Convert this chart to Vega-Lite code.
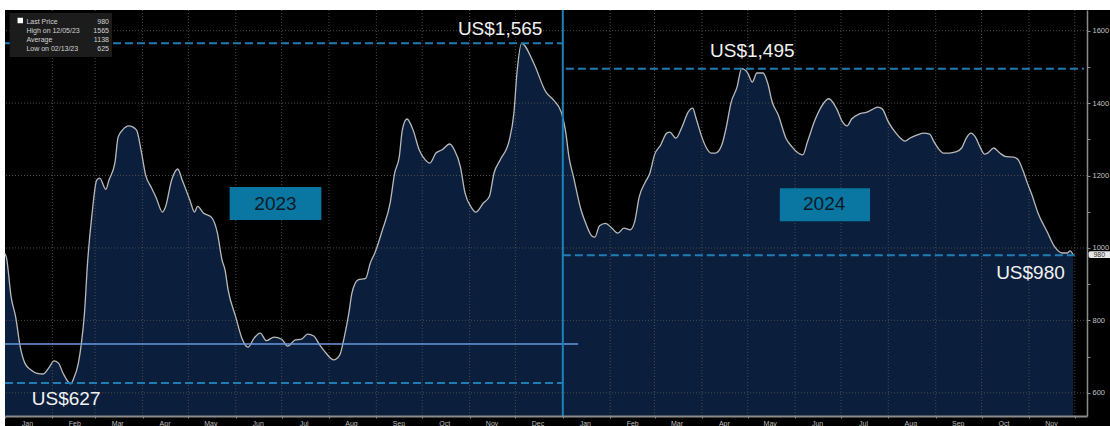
{
  "$schema": "https://vega.github.io/schema/vega-lite/v6.json",
  "width": 1082,
  "height": 406,
  "autosize": {"type": "none"},
  "padding": {"left": 5, "top": 10, "right": 23, "bottom": 10},
  "background": "#ffffff",
  "config": {"view": {"stroke": null}, "font": "Liberation Sans"},
  "data": {"values": [{}]},
  "datasets": {
    "price": [
      {"date": "2023-01-01", "price": 985}, {"date": "2023-01-02", "price": 972}, {"date": "2023-01-05", "price": 865},
      {"date": "2023-01-08", "price": 809}, {"date": "2023-01-11", "price": 726}, {"date": "2023-01-14", "price": 682},
      {"date": "2023-01-18", "price": 663}, {"date": "2023-01-22", "price": 654}, {"date": "2023-01-26", "price": 652},
      {"date": "2023-01-30", "price": 671}, {"date": "2023-02-02", "price": 688}, {"date": "2023-02-05", "price": 682},
      {"date": "2023-02-08", "price": 654}, {"date": "2023-02-13", "price": 625}, {"date": "2023-02-15", "price": 640},
      {"date": "2023-02-18", "price": 682}, {"date": "2023-02-20", "price": 737}, {"date": "2023-02-22", "price": 820},
      {"date": "2023-02-24", "price": 958}, {"date": "2023-02-27", "price": 1096}, {"date": "2023-03-02", "price": 1187},
      {"date": "2023-03-04", "price": 1193}, {"date": "2023-03-08", "price": 1162}, {"date": "2023-03-10", "price": 1187},
      {"date": "2023-03-14", "price": 1237}, {"date": "2023-03-16", "price": 1306}, {"date": "2023-03-19", "price": 1326},
      {"date": "2023-03-23", "price": 1337}, {"date": "2023-03-28", "price": 1326}, {"date": "2023-03-31", "price": 1271},
      {"date": "2023-04-03", "price": 1202}, {"date": "2023-04-07", "price": 1165}, {"date": "2023-04-10", "price": 1138},
      {"date": "2023-04-14", "price": 1099}, {"date": "2023-04-16", "price": 1113}, {"date": "2023-04-20", "price": 1187},
      {"date": "2023-04-24", "price": 1218}, {"date": "2023-04-27", "price": 1187}, {"date": "2023-05-02", "price": 1132},
      {"date": "2023-05-05", "price": 1099}, {"date": "2023-05-07", "price": 1115}, {"date": "2023-05-11", "price": 1096},
      {"date": "2023-05-16", "price": 1085}, {"date": "2023-05-20", "price": 1041}, {"date": "2023-05-23", "price": 967},
      {"date": "2023-05-25", "price": 939}, {"date": "2023-05-27", "price": 884}, {"date": "2023-06-01", "price": 809},
      {"date": "2023-06-05", "price": 751}, {"date": "2023-06-09", "price": 726}, {"date": "2023-06-13", "price": 751},
      {"date": "2023-06-17", "price": 765}, {"date": "2023-06-21", "price": 744}, {"date": "2023-06-26", "price": 754},
      {"date": "2023-07-01", "price": 748}, {"date": "2023-07-05", "price": 729}, {"date": "2023-07-10", "price": 746},
      {"date": "2023-07-14", "price": 748}, {"date": "2023-07-18", "price": 762}, {"date": "2023-07-22", "price": 757},
      {"date": "2023-07-26", "price": 732}, {"date": "2023-07-30", "price": 710}, {"date": "2023-08-04", "price": 691},
      {"date": "2023-08-08", "price": 704}, {"date": "2023-08-11", "price": 754}, {"date": "2023-08-14", "price": 820},
      {"date": "2023-08-16", "price": 875}, {"date": "2023-08-20", "price": 912}, {"date": "2023-08-25", "price": 916},
      {"date": "2023-08-28", "price": 958}, {"date": "2023-08-31", "price": 986}, {"date": "2023-09-05", "price": 1050},
      {"date": "2023-09-10", "price": 1124}, {"date": "2023-09-13", "price": 1207}, {"date": "2023-09-16", "price": 1252},
      {"date": "2023-09-18", "price": 1326}, {"date": "2023-09-21", "price": 1356}, {"date": "2023-09-25", "price": 1326},
      {"date": "2023-09-29", "price": 1271}, {"date": "2023-10-03", "price": 1243}, {"date": "2023-10-06", "price": 1234},
      {"date": "2023-10-10", "price": 1262}, {"date": "2023-10-14", "price": 1271}, {"date": "2023-10-19", "price": 1287},
      {"date": "2023-10-22", "price": 1271}, {"date": "2023-10-26", "price": 1224}, {"date": "2023-10-29", "price": 1152},
      {"date": "2023-11-02", "price": 1113}, {"date": "2023-11-05", "price": 1099}, {"date": "2023-11-10", "price": 1124},
      {"date": "2023-11-14", "price": 1143}, {"date": "2023-11-17", "price": 1207}, {"date": "2023-11-21", "price": 1243},
      {"date": "2023-11-27", "price": 1298}, {"date": "2023-11-30", "price": 1373}, {"date": "2023-12-02", "price": 1483},
      {"date": "2023-12-05", "price": 1565}, {"date": "2023-12-13", "price": 1510}, {"date": "2023-12-21", "price": 1430},
      {"date": "2023-12-26", "price": 1408}, {"date": "2023-12-31", "price": 1375}, {"date": "2024-01-03", "price": 1317},
      {"date": "2024-01-05", "price": 1252}, {"date": "2024-01-08", "price": 1196}, {"date": "2024-01-13", "price": 1104},
      {"date": "2024-01-16", "price": 1068}, {"date": "2024-01-20", "price": 1033}, {"date": "2024-01-22", "price": 1030},
      {"date": "2024-01-25", "price": 1061}, {"date": "2024-01-29", "price": 1068}, {"date": "2024-02-02", "price": 1055},
      {"date": "2024-02-06", "price": 1041}, {"date": "2024-02-10", "price": 1055}, {"date": "2024-02-14", "price": 1050},
      {"date": "2024-02-17", "price": 1072}, {"date": "2024-02-20", "price": 1141}, {"date": "2024-02-24", "price": 1182},
      {"date": "2024-02-27", "price": 1207}, {"date": "2024-03-01", "price": 1257}, {"date": "2024-03-05", "price": 1284},
      {"date": "2024-03-09", "price": 1317}, {"date": "2024-03-11", "price": 1320}, {"date": "2024-03-15", "price": 1303},
      {"date": "2024-03-19", "price": 1334}, {"date": "2024-03-23", "price": 1375}, {"date": "2024-03-26", "price": 1386},
      {"date": "2024-03-28", "price": 1361}, {"date": "2024-04-01", "price": 1306}, {"date": "2024-04-04", "price": 1276},
      {"date": "2024-04-07", "price": 1262}, {"date": "2024-04-10", "price": 1262}, {"date": "2024-04-14", "price": 1284},
      {"date": "2024-04-17", "price": 1334}, {"date": "2024-04-20", "price": 1400}, {"date": "2024-04-24", "price": 1444},
      {"date": "2024-04-27", "price": 1495}, {"date": "2024-05-01", "price": 1483}, {"date": "2024-05-04", "price": 1458},
      {"date": "2024-05-07", "price": 1483}, {"date": "2024-05-11", "price": 1483}, {"date": "2024-05-14", "price": 1456},
      {"date": "2024-05-17", "price": 1403}, {"date": "2024-05-21", "price": 1367}, {"date": "2024-05-26", "price": 1303},
      {"date": "2024-05-30", "price": 1279}, {"date": "2024-06-03", "price": 1262}, {"date": "2024-06-06", "price": 1257},
      {"date": "2024-06-09", "price": 1292}, {"date": "2024-06-14", "price": 1353}, {"date": "2024-06-18", "price": 1389},
      {"date": "2024-06-23", "price": 1412}, {"date": "2024-06-28", "price": 1386}, {"date": "2024-07-02", "price": 1348},
      {"date": "2024-07-05", "price": 1337}, {"date": "2024-07-08", "price": 1356}, {"date": "2024-07-13", "price": 1370},
      {"date": "2024-07-18", "price": 1375}, {"date": "2024-07-21", "price": 1381}, {"date": "2024-07-25", "price": 1389},
      {"date": "2024-07-28", "price": 1384}, {"date": "2024-08-01", "price": 1348}, {"date": "2024-08-06", "price": 1317},
      {"date": "2024-08-09", "price": 1303}, {"date": "2024-08-12", "price": 1295}, {"date": "2024-08-15", "price": 1303},
      {"date": "2024-08-20", "price": 1312}, {"date": "2024-08-24", "price": 1317}, {"date": "2024-08-28", "price": 1314},
      {"date": "2024-08-31", "price": 1292}, {"date": "2024-09-03", "price": 1273}, {"date": "2024-09-06", "price": 1262},
      {"date": "2024-09-10", "price": 1262}, {"date": "2024-09-14", "price": 1265}, {"date": "2024-09-18", "price": 1276},
      {"date": "2024-09-21", "price": 1303}, {"date": "2024-09-24", "price": 1317}, {"date": "2024-09-27", "price": 1306},
      {"date": "2024-09-30", "price": 1279}, {"date": "2024-10-03", "price": 1259}, {"date": "2024-10-05", "price": 1262},
      {"date": "2024-10-09", "price": 1276}, {"date": "2024-10-13", "price": 1262}, {"date": "2024-10-17", "price": 1252},
      {"date": "2024-10-22", "price": 1251}, {"date": "2024-10-25", "price": 1243}, {"date": "2024-10-28", "price": 1215},
      {"date": "2024-10-31", "price": 1179}, {"date": "2024-11-03", "price": 1146}, {"date": "2024-11-07", "price": 1096},
      {"date": "2024-11-13", "price": 1044}, {"date": "2024-11-18", "price": 1002}, {"date": "2024-11-23", "price": 986},
      {"date": "2024-11-26", "price": 986}, {"date": "2024-11-28", "price": 992}, {"date": "2024-11-30", "price": 980}
    ],
    "months": [
      {"date": "2023-02-01"}, {"date": "2023-03-01"}, {"date": "2023-04-01"}, {"date": "2023-05-01"}, {"date": "2023-06-01"},
      {"date": "2023-07-01"}, {"date": "2023-08-01"}, {"date": "2023-09-01"}, {"date": "2023-10-01"}, {"date": "2023-11-01"},
      {"date": "2023-12-01"}, {"date": "2024-01-01"}, {"date": "2024-02-01"}, {"date": "2024-03-01"}, {"date": "2024-04-01"},
      {"date": "2024-05-01"}, {"date": "2024-06-01"}, {"date": "2024-07-01"}, {"date": "2024-08-01"}, {"date": "2024-09-01"},
      {"date": "2024-10-01"}, {"date": "2024-11-01"}, {"date": "2024-12-01"}
    ],
    "levels": [{"level": 600}, {"level": 800}, {"level": 1000}, {"level": 1200}, {"level": 1400}, {"level": 1600}],
    "refs": [
      {"name": "High 2023", "value": 1565, "start": "2023-01-01", "end": "2024-01-01"},
      {"name": "Low 2023", "value": 627, "start": "2023-01-01", "end": "2024-01-01"},
      {"name": "High 2024", "value": 1495, "start": "2024-01-03", "end": "2024-12-07"},
      {"name": "Last", "value": 980, "start": "2024-01-01", "end": "2024-12-01"}
    ]
  },
  "layer": [
    {
      "data": {"name": "price"},
      "mark": {"type": "area", "fill": "#0b1f3c", "interpolate": "monotone", "clip": true},
      "encoding": {
        "x": {"field": "date", "type": "temporal", "title": null,
              "scale": {"type": "utc", "nice": false, "domain": [1672531200000, 1733702400000]},
              "axis": {"orient": "bottom", "title": null, "tickCount": {"interval": "month", "step": 1}, "format": "%b",
                       "labelExpr": "utcyear(datum.value) == 2024 && utcmonth(datum.value) == 11 ? '' : datum.label",
                       "labelOffset": 22, "labelAlign": "center", "labelFlush": false, "labelOverlap": false, "grid": false,
                       "domainColor": "#8c8c8c", "domainWidth": 2, "tickColor": "#8c8c8c", "tickSize": 2, "tickWidth": 1,
                       "labelColor": "#bdbdbd", "labelFontSize": 7, "labelPadding": 1, "zindex": 1}},
        "y": {"field": "price", "type": "quantitative", "title": null,
              "scale": {"domain": [536, 1657], "nice": false, "zero": false},
              "axis": {"orient": "right", "title": null, "values": [600, 700, 800, 900, 1000, 1100, 1200, 1300, 1400, 1500, 1600],
                       "format": "d", "labelExpr": "datum.value % 200 == 0 ? datum.label : ''", "grid": false,
                       "domainColor": "#8c8c8c", "domainWidth": 1.5, "tickColor": "#8c8c8c", "tickSize": 3,
                       "labelColor": "#c4c4c4", "labelFontSize": 7.5, "labelPadding": 2, "zindex": 1}}
      }
    },
    {
      "mark": {"type": "rect", "fill": "#000000"},
      "encoding": {
        "x": {"datum": {"year": 2023, "month": 1, "date": 1, "utc": true}, "type": "temporal", "title": null},
        "x2": {"datum": {"year": 2025, "month": 3, "date": 1, "utc": true}},
        "y": {"datum": 1657, "type": "quantitative", "title": null},
        "y2": {"datum": 470}
      }
    },
    {
      "data": {"name": "price"},
      "mark": {"type": "area", "fill": "#0b1f3c", "interpolate": "monotone", "clip": true},
      "encoding": {
        "x": {"field": "date", "type": "temporal", "title": null},
        "y": {"field": "price", "type": "quantitative", "title": null}
      }
    },
    {
      "data": {"name": "months"},
      "mark": {"type": "rule", "stroke": "#4a4a4a", "strokeDash": [1, 2], "strokeWidth": 1},
      "encoding": {
        "x": {"field": "date", "type": "temporal", "title": null}
      }
    },
    {
      "data": {"name": "levels"},
      "mark": {"type": "rule", "stroke": "#4a4a4a", "strokeDash": [1, 2], "strokeWidth": 1},
      "encoding": {
        "y": {"field": "level", "type": "quantitative", "title": null}
      }
    },
    {
      "data": {"name": "price"},
      "mark": {"type": "line", "stroke": "#b9b9b9", "strokeWidth": 1.3, "interpolate": "monotone"},
      "encoding": {
        "x": {"field": "date", "type": "temporal", "title": null},
        "y": {"field": "price", "type": "quantitative", "title": null}
      }
    },
    {
      "mark": {"type": "rule", "stroke": "#6b98e0", "strokeWidth": 1.5},
      "encoding": {
        "x": {"datum": {"year": 2023, "month": 1, "date": 1, "utc": true}, "type": "temporal", "title": null},
        "x2": {"datum": {"year": 2024, "month": 1, "date": 11, "utc": true}},
        "y": {"datum": 735, "type": "quantitative", "title": null}
      }
    },
    {
      "data": {"name": "refs"},
      "mark": {"type": "rule", "stroke": "#1f7db3", "strokeWidth": 2, "strokeDash": [8, 4]},
      "encoding": {
        "x": {"field": "start", "type": "temporal", "title": null},
        "x2": {"field": "end"},
        "y": {"field": "value", "type": "quantitative", "title": null}
      }
    },
    {
      "mark": {"type": "rule", "stroke": "#1d80b8", "strokeWidth": 2},
      "encoding": {
        "x": {"datum": {"year": 2024, "month": 1, "date": 1, "utc": true}, "type": "temporal", "title": null}
      }
    },
    {
      "mark": {"type": "rect", "fill": "#1c1c1c"},
      "encoding": {
        "x": {"datum": {"year": 2023, "month": 1, "date": 4, "utc": true}, "type": "temporal", "title": null},
        "x2": {"datum": {"year": 2023, "month": 3, "date": 12, "utc": true}},
        "y": {"datum": 1649, "type": "quantitative", "title": null},
        "y2": {"datum": 1527}
      }
    },
    {
      "mark": {"type": "text", "align": "left", "baseline": "top", "fontSize": 7, "lineHeight": 9, "lineBreak": "\n", "fill": "#d2d2d2"},
      "encoding": {
        "x": {"datum": {"year": 2023, "month": 1, "date": 15, "utc": true}, "type": "temporal", "title": null},
        "y": {"datum": 1634, "type": "quantitative", "title": null},
        "text": {"value": "Last Price\nHigh on 12/05/23\nAverage\nLow on 02/13/23"}
      }
    },
    {
      "mark": {"type": "text", "align": "right", "baseline": "top", "fontSize": 7, "lineHeight": 9, "lineBreak": "\n", "fill": "#d2d2d2"},
      "encoding": {
        "x": {"datum": {"year": 2023, "month": 3, "date": 10, "utc": true}, "type": "temporal", "title": null},
        "y": {"datum": 1634, "type": "quantitative", "title": null},
        "text": {"value": "980\n1565\n1138\n625"}
      }
    },
    {
      "mark": {"type": "point", "shape": "square", "filled": true, "fill": "#ffffff", "size": 30, "opacity": 1},
      "encoding": {
        "x": {"datum": {"year": 2023, "month": 1, "date": 11, "utc": true}, "type": "temporal", "title": null},
        "y": {"datum": 1628, "type": "quantitative", "title": null}
      }
    },
    {
      "mark": {"type": "rect", "fill": "#0a77a2"},
      "encoding": {
        "x": {"datum": {"year": 2023, "month": 5, "date": 28, "utc": true}, "type": "temporal", "title": null},
        "x2": {"datum": {"year": 2023, "month": 7, "date": 27, "utc": true}},
        "y": {"datum": 1168, "type": "quantitative", "title": null},
        "y2": {"datum": 1077}
      }
    },
    {
      "mark": {"type": "text", "align": "center", "baseline": "middle", "fontSize": 19, "fill": "#0c1a26"},
      "encoding": {
        "x": {"datum": {"year": 2023, "month": 6, "date": 27, "utc": true}, "type": "temporal", "title": null},
        "y": {"datum": 1122, "type": "quantitative", "title": null},
        "text": {"value": "2023"}
      }
    },
    {
      "mark": {"type": "rect", "fill": "#0a77a2"},
      "encoding": {
        "x": {"datum": {"year": 2024, "month": 5, "date": 22, "utc": true}, "type": "temporal", "title": null},
        "x2": {"datum": {"year": 2024, "month": 7, "date": 20, "utc": true}},
        "y": {"datum": 1165, "type": "quantitative", "title": null},
        "y2": {"datum": 1074}
      }
    },
    {
      "mark": {"type": "text", "align": "center", "baseline": "middle", "fontSize": 19, "fill": "#0c1a26"},
      "encoding": {
        "x": {"datum": {"year": 2024, "month": 6, "date": 20, "utc": true}, "type": "temporal", "title": null},
        "y": {"datum": 1120, "type": "quantitative", "title": null},
        "text": {"value": "2024"}
      }
    },
    {
      "mark": {"type": "text", "align": "center", "baseline": "alphabetic", "fontSize": 19, "fill": "#f2f2f2"},
      "encoding": {
        "x": {"datum": {"year": 2023, "month": 11, "date": 21, "utc": true}, "type": "temporal", "title": null},
        "y": {"datum": 1589, "type": "quantitative", "title": null},
        "text": {"value": "US$1,565"}
      }
    },
    {
      "mark": {"type": "text", "align": "center", "baseline": "alphabetic", "fontSize": 19, "fill": "#f2f2f2"},
      "encoding": {
        "x": {"datum": {"year": 2024, "month": 5, "date": 4, "utc": true}, "type": "temporal", "title": null},
        "y": {"datum": 1527, "type": "quantitative", "title": null},
        "text": {"value": "US$1,495"}
      }
    },
    {
      "mark": {"type": "text", "align": "center", "baseline": "alphabetic", "fontSize": 19, "fill": "#f2f2f2"},
      "encoding": {
        "x": {"datum": {"year": 2024, "month": 11, "date": 2, "utc": true}, "type": "temporal", "title": null},
        "y": {"datum": 914, "type": "quantitative", "title": null},
        "text": {"value": "US$980"}
      }
    },
    {
      "mark": {"type": "text", "align": "center", "baseline": "alphabetic", "fontSize": 19, "fill": "#f2f2f2"},
      "encoding": {
        "x": {"datum": {"year": 2023, "month": 2, "date": 10, "utc": true}, "type": "temporal", "title": null},
        "y": {"datum": 567, "type": "quantitative", "title": null},
        "text": {"value": "US$627"}
      }
    },
    {
      "mark": {"type": "rect", "fill": "#e6e6e6", "cornerRadius": 2},
      "encoding": {
        "x": {"datum": {"year": 2024, "month": 12, "date": 10, "utc": true}, "type": "temporal", "title": null},
        "x2": {"datum": {"year": 2024, "month": 12, "date": 26, "utc": true}},
        "y": {"datum": 991, "type": "quantitative", "title": null},
        "y2": {"datum": 972}
      }
    },
    {
      "mark": {"type": "text", "align": "center", "baseline": "middle", "fontSize": 7, "fill": "#333333"},
      "encoding": {
        "x": {"datum": {"year": 2024, "month": 12, "date": 17, "utc": true}, "type": "temporal", "title": null},
        "y": {"datum": 981.5, "type": "quantitative", "title": null},
        "text": {"value": "980"}
      }
    }
  ]
}
